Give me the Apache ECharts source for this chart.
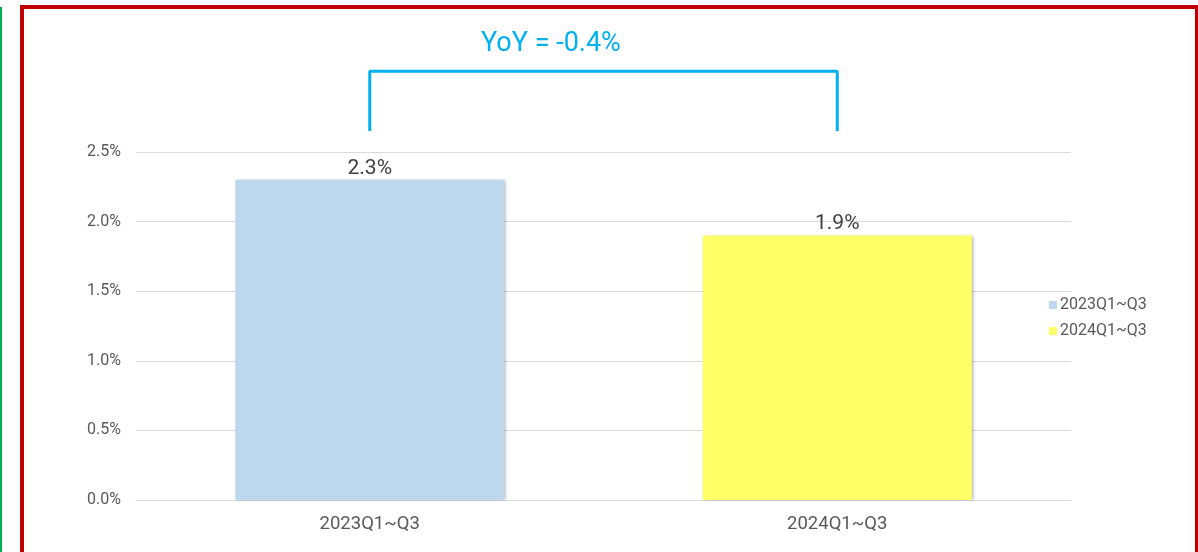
<!DOCTYPE html>
<html>
<head>
<meta charset="utf-8">
<script src="https://cdn.jsdelivr.net/npm/echarts@6/dist/echarts.min.js"></script>
<style>
html,body{margin:0;padding:0;background:#fff;}
#chart{position:absolute;left:0;top:0;width:1198px;height:552px;}
#red{position:absolute;left:20px;top:5px;width:1171px;height:560px;border:4px solid #C00000;border-bottom:none;pointer-events:none;}
#green{position:absolute;left:0;top:7px;width:2px;height:545px;background:#00B050;pointer-events:none;}
</style>
</head>
<body>
<div id="chart"></div>
<div id="red"></div>
<div id="green"></div>
<script>
const categories = ['2023Q1~Q3', '2024Q1~Q3'];
const seriesNames = ['2023Q1~Q3', '2024Q1~Q3'];
const values = [2.3, 1.9];
const yTicks = [0, 0.5, 1.0, 1.5, 2.0, 2.5];
const yoyLabel = 'YoY = -0.4%';
const bracketLow = 2.65;
const bracketHigh = 3.08;

const colors = ['#BDD7EE', '#FFFF66'];
const font = 'Roboto, "Noto Sans", sans-serif';

const chart = echarts.init(document.getElementById('chart'));

const barSeries = seriesNames.map((name, i) => ({
  name: name,
  type: 'bar',
  data: categories.map((c, j) => (j === i ? values[i] : '-')),
  barWidth: 269,
  barGap: '-100%',
  itemStyle: {
    color: colors[i],
    shadowColor: 'rgba(0,0,0,0.28)',
    shadowBlur: 3,
    shadowOffsetX: 2,
    shadowOffsetY: 0
  },
  label: {
    show: true,
    position: 'top',
    distance: 1,
    formatter: p => p.value.toFixed(1) + '%',
    fontSize: 21,
    color: '#404040',
    fontFamily: font
  }
}));

const bracket = {
  type: 'line',
  name: 'bracket',
  data: [[0, bracketLow], [0, bracketHigh], [1, bracketHigh], [1, bracketLow]],
  symbol: 'none',
  clip: false,
  silent: true,
  lineStyle: { color: '#00B0F0', width: 3 },
  z: 5
};

chart.setOption({
  animation: false,
  textStyle: { fontFamily: font },
  title: {
    text: yoyLabel,
    left: 476,
    top: 26,
    textStyle: { color: '#00B0F0', fontSize: 27, fontWeight: 'normal', fontFamily: font }
  },
  legend: {
    data: seriesNames,
    orient: 'vertical',
    left: 1044,
    top: 292,
    icon: 'rect',
    itemWidth: 8,
    itemHeight: 8,
    itemGap: 10,
    textStyle: { fontSize: 16, color: '#595959', fontFamily: font, padding: [0, 0, 0, -2] }
  },
  grid: { left: 136, right: 127, top: 152, bottom: 52 },
  xAxis: {
    type: 'category',
    data: categories,
    axisTick: { show: false },
    axisLine: { lineStyle: { color: '#D9D9D9', width: 1 } },
    axisLabel: { fontSize: 18.5, color: '#595959', margin: 15, fontFamily: font }
  },
  yAxis: {
    type: 'value',
    min: yTicks[0],
    max: yTicks[yTicks.length - 1],
    interval: 0.5,
    axisLine: { show: false },
    axisTick: { show: false },
    splitLine: { lineStyle: { color: '#D9D9D9', width: 1 } },
    axisLabel: { fontSize: 16, color: '#595959', margin: 15, formatter: v => v.toFixed(1) + '%', fontFamily: font }
  },
  series: [...barSeries, bracket]
});
</script>
</body>
</html>
